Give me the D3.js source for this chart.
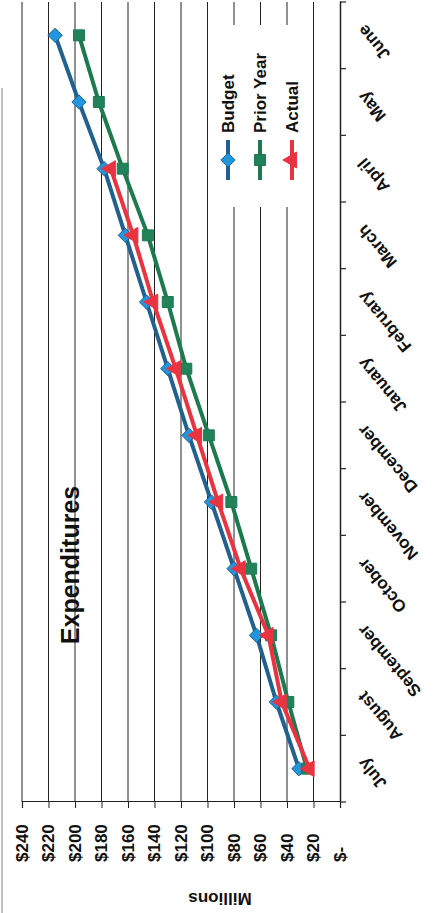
<!DOCTYPE html>
<html>
<head>
<meta charset="utf-8">
<script src="https://cdn.jsdelivr.net/npm/d3@7"></script>
<style>
  html, body { margin: 0; padding: 0; background: #ffffff; }
  svg { display: block; }
  text { font-family: "Liberation Sans", Arial, sans-serif; font-weight: bold; fill: #111; }
</style>
</head>
<body>
<div id="chart"></div>
<script>
// ---- Data (values in millions of dollars) ----
const months = ["July", "August", "September", "October", "November", "December",
                "January", "February", "March", "April", "May", "June"];
const budget    = [31, 48, 63, 80, 97, 114, 130, 146, 162, 178, 197, 215];
const priorYear = [25, 39, 52, 67, 82, 99, 116, 130, 145, 164, 182, 197];
const actual    = [23, 44, 54, 75, 92, 108, 124, 141, 156, 173];
const valueTicks = [0, 20, 40, 60, 80, 100, 120, 140, 160, 180, 200, 220, 240];
const seriesNames = ["Budget", "Prior Year", "Actual"];

// ---- Canvas: the chart is drawn landscape, then rotated 90deg CCW ----
const PW = 441, PH = 913;      // page (portrait)

const svg = d3.select("#chart").append("svg")
  .attr("width", PW).attr("height", PH);
svg.append("rect").attr("width", PW).attr("height", PH).attr("fill", "#fff");

const g = svg.append("g").attr("transform", `translate(0,${PH}) rotate(-90)`);

const x = d3.scaleBand().domain(months).range([111, 911]);
const y = d3.scaleLinear().domain([0, 240]).range([340, 22]);
const cx = m => x(m) + x.bandwidth() / 2;

// faint outer border on the left of the page
g.append("line").attr("x1", 0).attr("x2", 825).attr("y1", 2).attr("y2", 2)
  .attr("stroke", "#aaa").attr("stroke-width", 1.5);

// gridlines
g.append("g").selectAll("line").data(valueTicks.filter(v => v > 0)).join("line")
  .attr("x1", x.range()[0]).attr("x2", x.range()[1])
  .attr("y1", d => y(d)).attr("y2", d => y(d))
  .attr("stroke", "#222").attr("stroke-width", 1);

// value axis
const yAxis = g.append("g").attr("transform", `translate(${x.range()[0]},0)`)
  .call(d3.axisLeft(y).tickValues(valueTicks).tickSize(6)
    .tickFormat(d => d === 0 ? "$-" : "$" + d));
yAxis.select(".domain").attr("stroke", "#222").attr("stroke-width", 1.2);
yAxis.selectAll(".tick line").attr("stroke", "#222");
yAxis.selectAll("text").attr("x", -60).attr("text-anchor", "start")
  .style("font-size", "17px").style("font-family", "Liberation Sans, Arial, sans-serif")
  .style("font-weight", "bold").attr("fill", "#111");

// category axis
const xAxis = g.append("g").attr("transform", `translate(0,${y(0)})`)
  .call(d3.axisBottom(x).tickSize(0).tickPadding(0));
xAxis.select(".domain").attr("stroke", "#222").attr("stroke-width", 1.5);
xAxis.selectAll("text")
  .attr("text-anchor", "end")
  .attr("transform", "translate(8,21) rotate(-40)")
  .attr("y", 0).attr("dy", "0.35em")
  .style("font-size", "17px").style("font-family", "Liberation Sans, Arial, sans-serif")
  .style("font-weight", "bold").attr("fill", "#111");
// boundary tick marks
g.append("g").selectAll("line")
  .data(months.map(m => x(m)).concat([x.range()[1]])).join("line")
  .attr("x1", d => d).attr("x2", d => d)
  .attr("y1", y(0)).attr("y2", y(0) + 6)
  .attr("stroke", "#222").attr("stroke-width", 1.2);

// series
const series = [
  { name: "Budget", values: budget, line: "#22608f", fill: "#2196dc", sym: d3.symbolDiamond2 || d3.symbolDiamond, size: 130 },
  { name: "Prior Year", values: priorYear, line: "#1c7a4e", fill: "#22835a", sym: d3.symbolSquare, size: 120 },
  { name: "Actual", values: actual, line: "#ea3340", fill: "#ea3340", sym: d3.symbolTriangle, size: 110 }
];
const lineGen = d3.line().x(d => cx(d.m)).y(d => y(d.v));

series.forEach(s => {
  const pts = s.values.map((v, i) => ({ m: months[i], v }));
  g.append("path").datum(pts).attr("d", lineGen)
    .attr("fill", "none").attr("stroke", s.line).attr("stroke-width", 4)
    .attr("stroke-linejoin", "round");
  g.append("g").selectAll("path").data(pts).join("path")
    .attr("transform", d => `translate(${cx(d.m)},${y(d.v)})`)
    .attr("d", d3.symbol().type(s.sym).size(s.size))
    .attr("fill", s.fill).attr("stroke", s.line).attr("stroke-width", 1);
});

// title
g.append("text").attr("x", 348).attr("y", 79).attr("text-anchor", "middle")
  .style("font-size", "25px").text("Expenditures");

// axis title
g.append("text").attr("transform", "translate(15,220) rotate(-90)")
  .attr("text-anchor", "middle").attr("dominant-baseline", "central")
  .style("font-size", "17px").text("Millions");

// legend
const lg = g.append("g");
lg.append("rect").attr("x", 706).attr("y", 214).attr("width", 182).attr("height", 98).attr("fill", "#fff");
series.forEach((s, i) => {
  const ly = 228 + 32 * i;
  lg.append("line").attr("x1", 733).attr("x2", 773).attr("y1", ly).attr("y2", ly)
    .attr("stroke", s.line).attr("stroke-width", 4);
  lg.append("path").attr("transform", `translate(753,${ly})`)
    .attr("d", d3.symbol().type(s.sym).size(s.size))
    .attr("fill", s.fill).attr("stroke", s.line).attr("stroke-width", 1);
  lg.append("text").attr("x", 780).attr("y", ly).attr("dominant-baseline", "central")
    .style("font-size", "17px").text(seriesNames[i]);
});
</script>
</body>
</html>
